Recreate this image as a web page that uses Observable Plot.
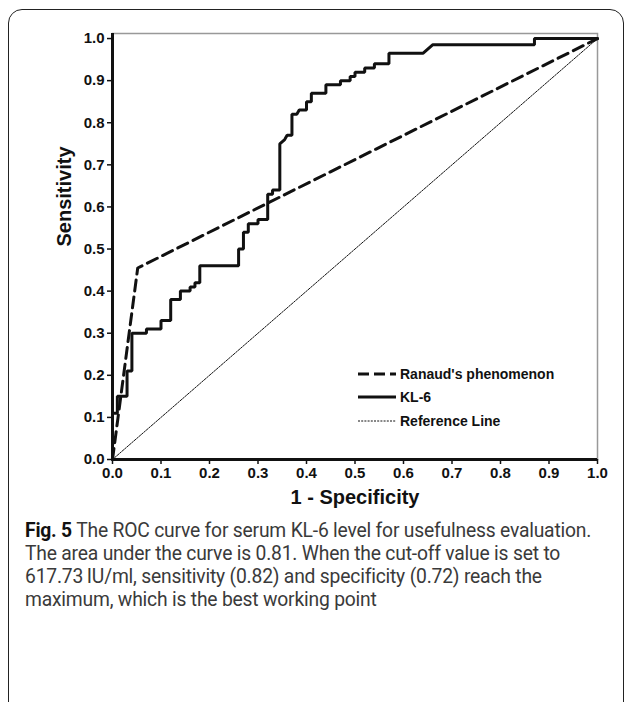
<!DOCTYPE html>
<html>
<head>
<meta charset="utf-8">
<script src="https://cdn.jsdelivr.net/npm/d3@7"></script>
<script src="https://cdn.jsdelivr.net/npm/@observablehq/plot@0.6"></script>
<style>
  html, body { margin: 0; padding: 0; background: #fff; }
  body { width: 629px; height: 702px; position: relative; overflow: hidden; }
  #box { position: absolute; left: 8px; top: 9px; width: 616px; height: 740px;
         border: 1.5px solid #222; border-radius: 14px; box-sizing: border-box; }
  #chart { position: absolute; left: 0; top: 0; }
  #legend { position: absolute; left: 358px; top: 362px; font-family: "Liberation Sans", Arial, sans-serif;
            font-weight: bold; font-size: 14px; color: #111; }
  #legend .row { height: 23.5px; display: flex; align-items: center; }
  #legend svg { margin-right: 4px; }
  #caption { position: absolute; left: 25px; top: 519px; width: 600px; font-family: Roboto, sans-serif;
             font-size: 19.3px; line-height: 23px; color: #3a3a3a; letter-spacing: -0.2px; white-space: nowrap; }
  #caption b { color: #111; }
</style>
</head>
<body>
<div id="box"></div>
<div id="chart"></div>
<div id="legend"></div>
<div id="caption"><b>Fig. 5</b> The ROC curve for serum KL-6 level for usefulness evaluation.<br>The area under the curve is 0.81. When the cut-off value is set to<br>617.73&#8201;IU/ml, sensitivity (0.82) and specificity (0.72) reach the<br>maximum, which is the best working point</div>
<script>
// ---- data ----
const tickValues = [0, 0.1, 0.2, 0.3, 0.4, 0.5, 0.6, 0.7, 0.8, 0.9, 1.0];

const kl6FPR = [0, 0, 0.01, 0.01, 0.03, 0.03, 0.04, 0.04, 0.07, 0.07, 0.10, 0.10, 0.12, 0.12, 0.14, 0.14,
  0.16, 0.16, 0.17, 0.17, 0.18, 0.18, 0.26, 0.26, 0.27, 0.27, 0.28, 0.28, 0.30, 0.30, 0.32, 0.32, 0.33, 0.33,
  0.345, 0.345, 0.355, 0.36, 0.37, 0.37, 0.38, 0.385, 0.40, 0.40, 0.41, 0.41, 0.44, 0.44, 0.47, 0.47, 0.49, 0.49,
  0.50, 0.50, 0.52, 0.52, 0.54, 0.54, 0.57, 0.57, 0.64, 0.66, 0.87, 0.87, 1.0];
const kl6TPR = [0, 0.11, 0.11, 0.15, 0.15, 0.21, 0.21, 0.30, 0.30, 0.31, 0.31, 0.33, 0.33, 0.38, 0.38, 0.40,
  0.40, 0.41, 0.41, 0.42, 0.42, 0.46, 0.46, 0.50, 0.50, 0.54, 0.54, 0.56, 0.56, 0.57, 0.57, 0.63, 0.63, 0.64,
  0.64, 0.75, 0.76, 0.77, 0.77, 0.82, 0.82, 0.83, 0.83, 0.85, 0.85, 0.87, 0.87, 0.89, 0.89, 0.90, 0.90, 0.91,
  0.91, 0.92, 0.92, 0.93, 0.93, 0.94, 0.94, 0.965, 0.965, 0.985, 0.985, 1.0, 1.0];

const raynaudFPR = [0, 0.052, 1.0];
const raynaudTPR = [0, 0.455, 1.0];

const refFPR = [0, 1];
const refTPR = [0, 1];

const seriesNames = ["Ranaud's phenomenon", "KL-6", "Reference Line"];

// ---- tables ----
const kl6 = kl6FPR.map((x, i) => ({x, y: kl6TPR[i]}));
const raynaud = raynaudFPR.map((x, i) => ({x, y: raynaudTPR[i]}));
const ref = refFPR.map((x, i) => ({x, y: refTPR[i]}));

const fmt = d3.format(".1f");

const chart = Plot.plot({
  width: 629,
  height: 515,
  marginLeft: 112,
  marginRight: 32,
  marginTop: 33,
  marginBottom: 56,
  style: {fontFamily: "'Liberation Sans', Arial, sans-serif", fontSize: "15px", fontWeight: "bold", color: "#111", background: "transparent"},
  x: {domain: [0, 1], axis: null},
  y: {domain: [0, 1.012], axis: null},
  marks: [
    Plot.frame({stroke: "#999", strokeWidth: 1.5}),
    Plot.axisX({ticks: tickValues, tickFormat: fmt, tickSize: 5, tickPadding: 3, label: null, strokeWidth: 1.5}),
    Plot.axisY({ticks: tickValues, tickFormat: fmt, tickSize: 5, tickPadding: 3, label: null, strokeWidth: 1.5}),
    Plot.text(["1 - Specificity"], {frameAnchor: "bottom", dy: 44, fontSize: 20, fontWeight: "bold"}),
    Plot.text(["Sensitivity"], {frameAnchor: "left", dx: -48, rotate: -90, fontSize: 20, fontWeight: "bold"}),
    Plot.line(ref, {x: "x", y: "y", stroke: "#111", strokeWidth: 1, strokeDasharray: "2,1.2"}),
    Plot.line(raynaud, {x: "x", y: "y", stroke: "#111", strokeWidth: 3, strokeDasharray: "11,6"}),
    Plot.line(kl6, {x: "x", y: "y", stroke: "#111", strokeWidth: 3, strokeLinejoin: "miter"}),
    Plot.ruleX([0], {stroke: "#111", strokeWidth: 3}),
    Plot.ruleY([0], {stroke: "#111", strokeWidth: 3})
  ]
});
document.getElementById("chart").appendChild(chart);

// legend
const styles = [
  {w: 3, dash: "11,5"},
  {w: 3, dash: null},
  {w: 1, dash: "2,1.2"}
];
const legend = d3.select("#legend");
seriesNames.forEach((name, i) => {
  const row = legend.append("div").attr("class", "row");
  const s = row.append("svg").attr("width", 38).attr("height", 10);
  s.append("line").attr("x1", 0).attr("x2", 38).attr("y1", 5).attr("y2", 5)
    .attr("stroke", "#111").attr("stroke-width", styles[i].w)
    .attr("stroke-dasharray", styles[i].dash);
  row.append("span").text(name);
});
</script>
</body>
</html>
